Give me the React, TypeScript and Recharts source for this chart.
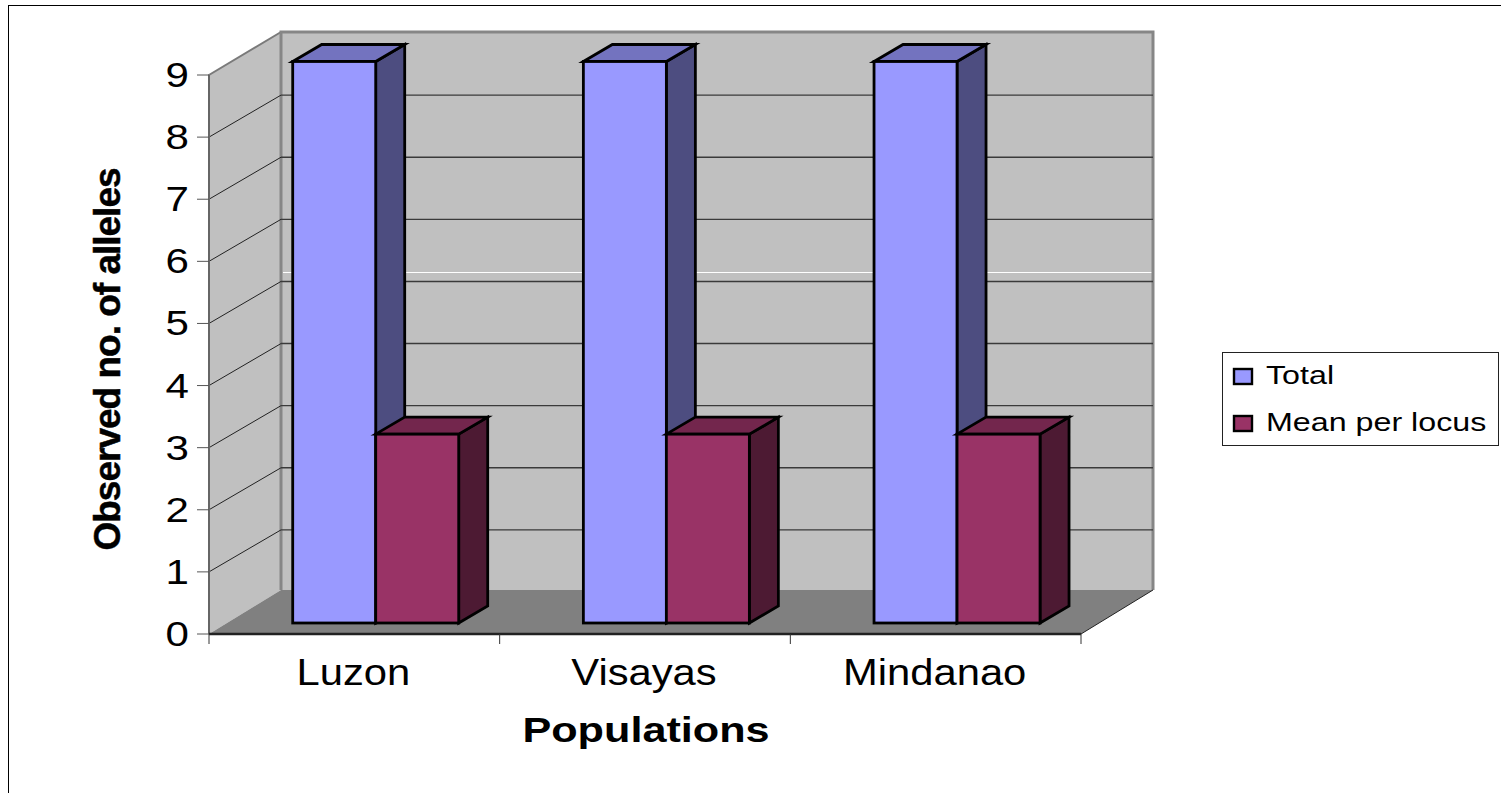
import { BarChart, Bar, XAxis, YAxis, CartesianGrid, ReferenceArea, Legend, Label } from "recharts";

const populations = ["Luzon", "Visayas", "Mindanao"];
const total = [9, 9, 9];
const meanPerLocus = [3, 3, 3];
const yTicks = [0, 1, 2, 3, 4, 5, 6, 7, 8, 9];

const chartData = populations.map((name, i) => ({
  name,
  total: total[i],
  mean: meanPerLocus[i],
}));

const FONT = "'Liberation Sans', Arial, sans-serif";
const PLOT_LEFT = 209;
const PLOT_WIDTH = 872;
const WALL_DX = 72;
const WALL_DY = 44;
const GRID_DY = 42;
const BAND = PLOT_WIDTH / 3;

// Text in the reference is stretched sideways
function WideText({ x, y, size, sx, anchor, bold, children }: any) {
  return (
    <g transform={`translate(${x},${y}) scale(${sx},1)`}>
      <text x={0} y={0} textAnchor={anchor} fontFamily={FONT} fontSize={size} fontWeight={bold ? 700 : 400} fill="#000">
        {children}
      </text>
    </g>
  );
}

function Walls({ x, y, width, height }: any) {
  const bottom = y + height;
  const right = x + width;
  const bx = x + WALL_DX;
  const by = y - WALL_DY + 1;
  const fy = bottom - WALL_DY;
  return (
    <g>
      <polygon points={`${x},${y} ${bx},${by} ${bx},${fy} ${x},${bottom}`} fill="#c0c0c0" />
      <rect x={bx} y={by} width={width} height={fy - by} fill="#c0c0c0" />
      <polygon points={`${x},${bottom} ${bx},${fy} ${right + WALL_DX},${fy} ${right},${bottom}`} fill="#808080" />
      <line x1={bx + 2} x2={right + WALL_DX - 1} y1={y + 197.5} y2={y + 197.5} stroke="#fff" strokeWidth={1} />
      <polyline points={`${x},${bottom} ${x},${y} ${bx},${by}`} fill="none" stroke="#7a7a7a" strokeWidth={2} />
      <polyline points={`${bx},${fy} ${bx},${by} ${right + WALL_DX},${by} ${right + WALL_DX},${fy}`} fill="none" stroke="#868686" strokeWidth={3} />
      <line x1={right} y1={bottom} x2={right + WALL_DX} y2={fy} stroke="#222" strokeWidth={1} />
    </g>
  );
}

function gridLine(props: any) {
  const { x1, x2, y1, index } = props;
  if (index === 0 || index === yTicks.length - 1) return <g key={`g-${index}`} />;
  return (
    <g key={`g-${index}`}>
      <line x1={x1} y1={y1} x2={x1 + WALL_DX} y2={y1 - GRID_DY} stroke="#222" strokeWidth={1} />
      <line x1={x1 + WALL_DX} y1={y1 - GRID_DY} x2={x2 + WALL_DX} y2={y1 - GRID_DY} stroke="#3a3a3a" strokeWidth={1.4} />
    </g>
  );
}

function shade(hex: string, k: number) {
  const n = parseInt(hex.slice(1), 16);
  const c = [(n >> 16) & 255, (n >> 8) & 255, n & 255].map((v) => Math.round(v * k));
  return `rgb(${c[0]},${c[1]},${c[2]})`;
}

// 3D column: front face pushed into the floor, top and side faces from the value's rectangle
function Column({ x, y, width, height, fill }: any) {
  const l = x + 21.5;
  const r = l + width;
  const t = y - 13.5;
  const b = y + height - 11;
  const dx = 29;
  const dy = 17;
  const common = { stroke: "#000", strokeWidth: 2.8, strokeLinejoin: "miter" as const };
  return (
    <g>
      <polygon points={`${r},${t} ${r + dx},${t - dy} ${r + dx},${b - dy} ${r},${b}`} fill={shade(fill, 0.5)} {...common} />
      <polygon points={`${l},${t} ${l + dx},${t - dy} ${r + dx},${t - dy} ${r},${t}`} fill={shade(fill, 0.75)} {...common} />
      <rect x={l} y={t} width={width} height={b - t} fill={fill} {...common} />
    </g>
  );
}

function YTick({ x, y, payload }: any) {
  return (
    <WideText x={x - 6} y={y + 12} size={36} sx={1.17} anchor="end">
      {payload.value}
    </WideText>
  );
}

function XTick({ x, y, payload, index }: any) {
  const yy = y - 8;
  return (
    <g>
      <line x1={x - BAND / 2} x2={x - BAND / 2} y1={yy} y2={yy + 10} stroke="#333" strokeWidth={1} />
      {index === populations.length - 1 && (
        <line x1={x + BAND / 2} x2={x + BAND / 2} y1={yy} y2={yy + 10} stroke="#333" strokeWidth={1} />
      )}
      <WideText x={x - 1} y={685} size={36} sx={1.16} anchor="middle">
        {payload.value}
      </WideText>
    </g>
  );
}

function LegendBox({ payload }: any) {
  const rows = payload ?? [];
  return (
    <svg width={278} height={95} style={{ display: "block" }}>
      <rect x={0.5} y={0.5} width={276} height={93} fill="#fff" stroke="#222" strokeWidth={1} />
      {rows.map((row: any, i: number) => (
        <g key={row.value}>
          <rect x={12} y={17 + i * 47} width={18} height={15} fill={row.color} stroke="#000" strokeWidth={2.4} />
          <WideText x={44} y={32 + i * 47} size={26} sx={1.24} anchor="start">
            {row.value}
          </WideText>
        </g>
      ))}
    </svg>
  );
}

export default function App() {
  return (
    <div style={{ position: "absolute", left: 0, top: 0, width: 1501, height: 793, overflow: "hidden", background: "#fff" }}>
      <div style={{ position: "absolute", left: 8, top: 5, width: 1500, height: 800, borderLeft: "1px solid #000", borderTop: "1px solid #000" }} />
      <div style={{ position: "absolute", left: 0, top: 0 }}>
        <BarChart
          width={1501}
          height={793}
          data={chartData}
          margin={{ top: 75, right: 420, bottom: 0, left: 0 }}
          barCategoryGap="21.4%"
          barGap={0}
        >
          <ReferenceArea y1={0} y2={9} shape={<Walls />} ifOverflow="visible" zIndex={-200} />
          <CartesianGrid vertical={false} horizontal={gridLine} />
          <YAxis
            width={PLOT_LEFT}
            domain={[0, 9]}
            ticks={yTicks}
            interval={0}
            tick={<YTick />}
            tickSize={12}
            axisLine={{ stroke: "#666", strokeWidth: 2 }}
            tickLine={{ stroke: "#555", strokeWidth: 1 }}
          >
            <Label
              content={({ viewBox }: any) => (
                <text
                  transform={`translate(120,${viewBox.y + viewBox.height / 2 + 5}) rotate(-90)`}
                  textAnchor="middle"
                  fontFamily={FONT}
                  fontSize={37}
                  fontWeight={700}
                  letterSpacing={-1}
                  stroke="#000"
                  strokeWidth={0.5}
                >
                  Observed no. of alleles
                </text>
              )}
            />
          </YAxis>
          <XAxis
            dataKey="name"
            height={159}
            interval={0}
            tick={<XTick />}
            tickLine={false}
            axisLine={{ stroke: "#222", strokeWidth: 2.5 }}
          >
            <Label
              content={({ viewBox }: any) => (
                <WideText x={viewBox.x + viewBox.width / 2 + 1} y={viewBox.y + 108} size={36} sx={1.2} anchor="middle" bold>
                  Populations
                </WideText>
              )}
            />
          </XAxis>
          <Legend
            layout="vertical"
            align="center"
            verticalAlign="middle"
            itemSorter={null}
            content={<LegendBox />}
            wrapperStyle={{ left: 1222, top: 352, width: 278, height: 95 }}
          />
          <Bar dataKey="total" name="Total" fill="#9999ff" shape={<Column />} isAnimationActive={false} />
          <Bar dataKey="mean" name="Mean per locus" fill="#993366" shape={<Column />} isAnimationActive={false} />
        </BarChart>
      </div>
    </div>
  );
}
